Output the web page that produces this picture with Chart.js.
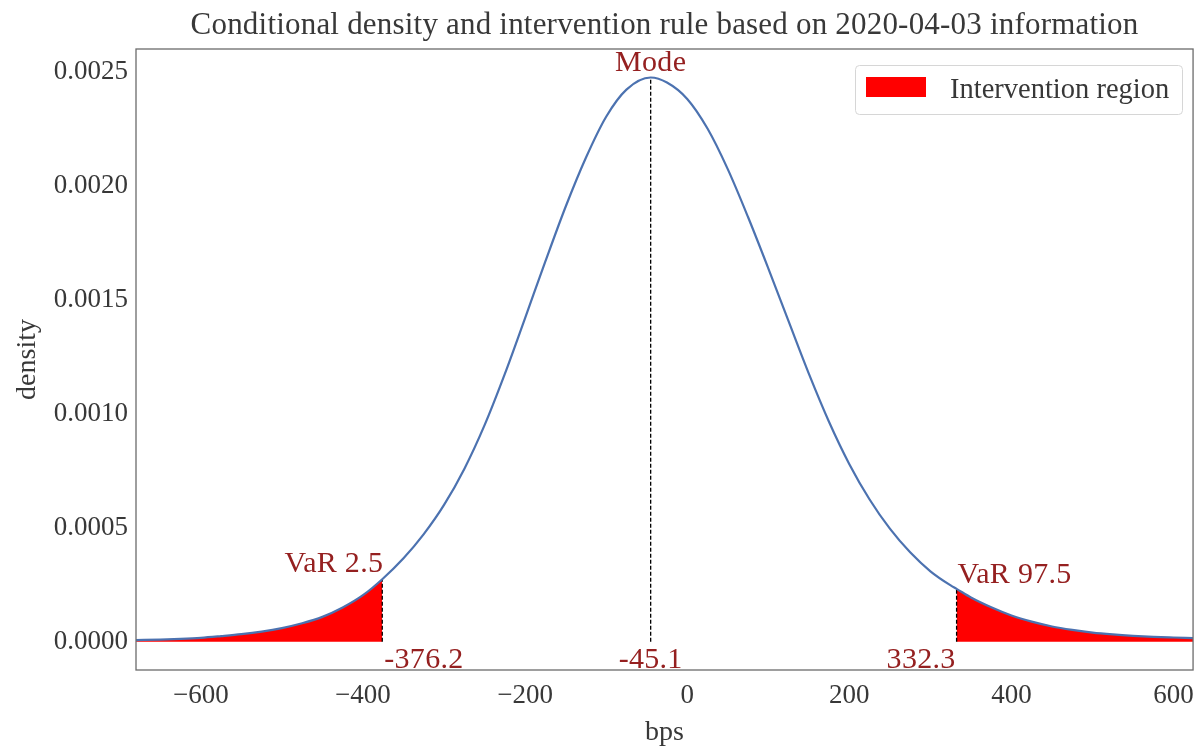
<!DOCTYPE html>
<html><head><meta charset="utf-8">
<script src="https://cdn.jsdelivr.net/npm/chart.js@4.4.0/dist/chart.umd.min.js"></script>
<style>html,body{margin:0;padding:0;background:#fff;}#wrap{width:1204px;height:746px;}</style>
</head><body><div id="wrap"><canvas id="c" width="1204" height="746"></canvas></div>
<script>
const titleText = 'Conditional density and intervention rule based on 2020-04-03 information';
const xLabel = 'bps';
const yLabel = 'density';
const legendLabel = 'Intervention region';
const bps = [-680,-650,-625,-600,-575,-550,-525,-500,-475,-450,-425,-400,-376.2,-350,-325,-300,-275,-250,-225,-200,-175,-150,-125,-100,-75,-45.1,-25,0,25,50,75,100,125,150,175,200,225,250,275,300,325,332.3,350,375,400,425,450,475,500,525,550,575,600,624];
const density = [0.0000070,0.0000095,0.0000125,0.0000170,0.0000245,0.0000330,0.0000445,0.0000600,0.0000810,0.0001090,0.0001500,0.0002040,0.0002740,0.0003660,0.0004720,0.0006000,0.0007580,0.0009500,0.0011750,0.0014200,0.0016680,0.0019080,0.0021230,0.0023030,0.0024220,0.0024750,0.0024530,0.0023810,0.0022510,0.0020730,0.0018630,0.0016380,0.0014060,0.0011760,0.0009640,0.0007790,0.0006240,0.0004960,0.0003920,0.0003090,0.0002470,0.0002320,0.0001940,0.0001510,0.0001150,0.0000880,0.0000670,0.0000520,0.0000400,0.0000320,0.0000260,0.0000215,0.0000185,0.0000160];
const xTicks = [-600,-400,-200,0,200,400,600];
const yTicks = [0,0.0005,0.0010,0.0015,0.0020,0.0025];
const markerNames = ['VaR 2.5','Mode','VaR 97.5'];
const markerX = [-376.2,-45.1,332.3];
const markerY = [0.000274,0.002475,0.000232];
const markerValueText = ['-376.2','-45.1','332.3'];

const FONT = "'Liberation Serif', 'DejaVu Serif', serif";
const TXT = '#383838';
const ANN = '#952020';

const curvePts = bps.map((x,i)=>({x, y: density[i]}));
const leftTail = curvePts.filter(p => p.x <= markerX[0]);
const rightTail = curvePts.filter(p => p.x >= markerX[2]);

const datasets = [
  {label:'density', data: curvePts, borderColor:'#4c72b0', borderWidth:2.2, pointRadius:0, fill:false, cubicInterpolationMode:'monotone', order:0},
  ...markerX.map((mx,i)=>({label:markerNames[i], data:[{x:mx,y:0},{x:mx,y:markerY[i]}], borderColor:'#000', borderWidth:1.3, borderDash:[4,2], pointRadius:0, fill:false, order:1})),
  {label:legendLabel, data:leftTail, borderWidth:0, borderColor:'rgba(0,0,0,0)', backgroundColor:'#ff0000', pointRadius:0, fill:'origin', cubicInterpolationMode:'monotone', order:2},
  {label:legendLabel+' ', data:rightTail, borderWidth:0, borderColor:'rgba(0,0,0,0)', backgroundColor:'#ff0000', pointRadius:0, fill:'origin', cubicInterpolationMode:'monotone', order:2}
];

const decor = {
  id:'decor',
  afterDraw(chart){
    const ctx = chart.ctx, a = chart.chartArea, xs = chart.scales.x, ys = chart.scales.y;
    ctx.save();
    ctx.strokeStyle = '#6b6b6b'; ctx.lineWidth = 1.3;
    ctx.strokeRect(a.left, a.top, a.right-a.left, a.bottom-a.top);
    // title
    ctx.fillStyle = TXT; ctx.font = "31px " + FONT; ctx.textAlign='center'; ctx.textBaseline='alphabetic';
    ctx.letterSpacing = '0.2px';
    ctx.fillText(titleText, (a.left+a.right)/2, 34);
    // annotations
    ctx.fillStyle = ANN; ctx.font = "30px " + FONT; ctx.letterSpacing = '0.3px';
    const px = markerX.map(v=>xs.getPixelForValue(v));
    const py = markerY.map(v=>ys.getPixelForValue(v));
    const y0 = ys.getPixelForValue(0);
    ctx.textAlign='right'; ctx.fillText(markerNames[0], px[0]+1, py[0]-7);
    ctx.textAlign='center'; ctx.fillText(markerNames[1], px[1], py[1]-6);
    ctx.textAlign='left'; ctx.fillText(markerNames[2], px[2]+1, py[2]-6);
    ctx.textAlign='left'; ctx.fillText(markerValueText[0], px[0]+2, y0+26);
    ctx.textAlign='center'; ctx.fillText(markerValueText[1], px[1], y0+26);
    ctx.textAlign='right'; ctx.fillText(markerValueText[2], px[2]-1, y0+26);
    // legend
    const lx=855, ly=65, lw=327, lh=49;
    ctx.fillStyle='rgba(255,255,255,0.85)'; ctx.strokeStyle='#d6d6d6'; ctx.lineWidth=1;
    ctx.beginPath(); ctx.roundRect(lx+0.5, ly+0.5, lw, lh, 4); ctx.fill(); ctx.stroke();
    ctx.fillStyle='#ff0000'; ctx.fillRect(866, 77, 60, 20);
    ctx.fillStyle=TXT; ctx.font="28.5px " + FONT; ctx.letterSpacing = '0px'; ctx.textAlign='left'; ctx.textBaseline='alphabetic';
    ctx.fillText(legendLabel, 950, 98);
    ctx.restore();
  }
};

new Chart(document.getElementById('c'), {
  type:'line',
  data:{datasets},
  options:{
    responsive:false, animation:false, devicePixelRatio:1,
    layout:{padding:{left:0,right:8,top:49,bottom:0}},
    plugins:{legend:{display:false}, title:{display:false}, tooltip:{enabled:false}},
    scales:{
      x:{type:'linear', min:-680, max:624,
        afterBuildTicks:s=>{s.ticks = xTicks.map(v=>({value:v}));},
        afterFit:s=>{s.height = 76;},
        grid:{display:false, drawTicks:false}, border:{display:false},
        ticks:{autoSkip:false, maxRotation:0, padding:10, color:TXT, font:{family:FONT,size:27},
          callback:v=> v<0 ? '\u2212'+Math.abs(v) : String(v)},
        title:{display:true, text:xLabel, color:TXT, font:{family:FONT,size:28,lineHeight:0.8}, padding:{top:0,bottom:2}}
      },
      y:{type:'linear', min:-0.000124, max:0.0026,
        afterBuildTicks:s=>{s.ticks = yTicks.map(v=>({value:v}));},
        afterFit:s=>{s.width = 136;},
        grid:{display:false, drawTicks:false}, border:{display:false},
        ticks:{autoSkip:false, padding:8, color:TXT, font:{family:FONT,size:27},
          callback:v=> Number(v).toFixed(4)},
        title:{display:true, text:yLabel, color:TXT, font:{family:FONT,size:28}, padding:{top:11,bottom:0}}
      }
    }
  },
  plugins:[decor]
});
</script></body></html>
